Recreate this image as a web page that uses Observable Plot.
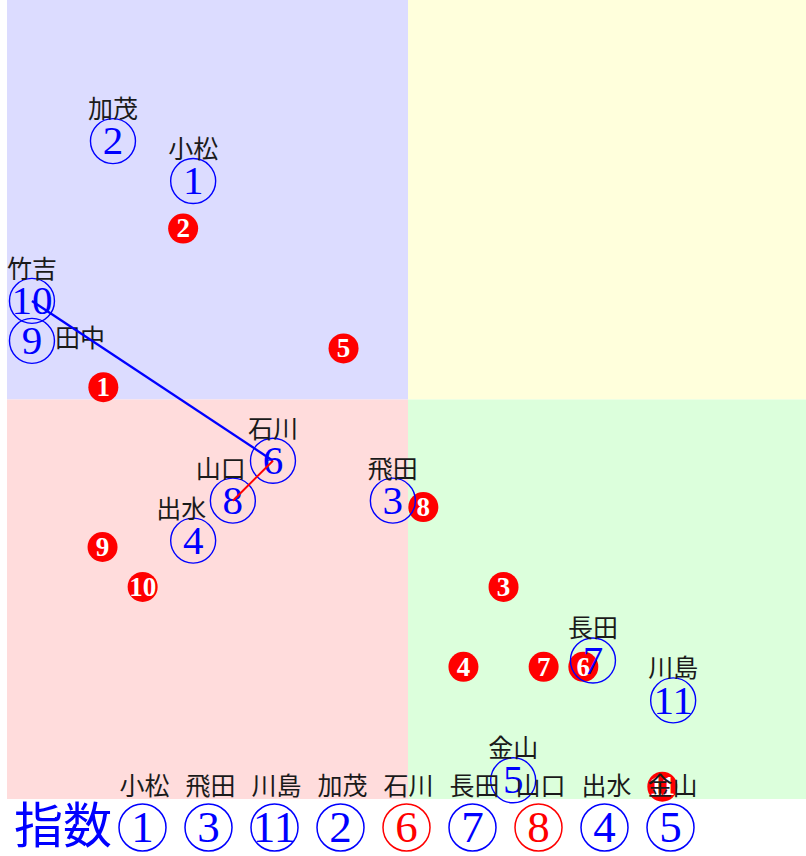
<!DOCTYPE html>
<html>
<head>
<meta charset="utf-8">
<script src="https://cdn.jsdelivr.net/npm/d3@7"></script>
<script src="https://cdn.jsdelivr.net/npm/@observablehq/plot@0.6"></script>
<style>
  body { margin: 0; background: #fff; }
  #wrap { position: relative; width: 806px; height: 856px; overflow: hidden; }
  #wrap svg { position: absolute; left: 0; }
</style>
</head>
<body>
<div id="wrap"></div>
<script>
// ---- data ----
const blueNo   = [1, 2, 3, 4, 5, 6, 7, 8, 9, 10, 11];
const blueName = ["小松", "加茂", "飛田", "出水", "金山", "石川", "長田", "山口", "田中", "竹吉", "川島"];
const blueX    = [4.63, 2.63, 9.61, 4.63, 12.61, 6.62, 14.60, 5.62, 0.61, 0.61, 16.60];
const blueY    = [15.48, 16.48, 7.48, 6.48, 0.48, 8.48, 3.48, 7.48, 11.48, 12.48, 2.48];

const redNo = [1, 2, 3, 4, 5, 6, 7, 8, 9, 10, 11];
const redX  = [2.39, 4.38, 12.37, 11.37, 8.38, 14.36, 13.37, 10.37, 2.37, 3.37, 16.33];
const redY  = [10.32, 14.29, 5.32, 3.32, 11.29, 3.32, 3.32, 7.32, 6.32, 5.32, 0.32];

const blueLinks = [[10, 6]];
const redLinks  = [[8, 6]];

const quadrantNames = ["左上", "右上", "左下", "右下"];
const quadrantColors = ["#dcdcff", "#ffffdc", "#ffdcdc", "#dcffdc"];

const rankNames  = ["小松", "飛田", "川島", "加茂", "石川", "長田", "山口", "出水", "金山"];
const rankNums   = [1, 3, 11, 2, 6, 7, 8, 4, 5];
const rankMarked = [false, false, false, false, true, false, true, false, false];
const rankTitle  = "指数";

// ---- tables ----
const xDomain = [0, 20], yDomain = [0, 20];
const xm = (xDomain[0] + xDomain[1]) / 2, ym = (yDomain[0] + yDomain[1]) / 2;
const quads = [
  {q: quadrantNames[0], x1: xDomain[0], x2: xm, y1: ym, y2: yDomain[1]},
  {q: quadrantNames[1], x1: xm, x2: xDomain[1], y1: ym, y2: yDomain[1]},
  {q: quadrantNames[2], x1: xDomain[0], x2: xm, y1: yDomain[0], y2: ym},
  {q: quadrantNames[3], x1: xm, x2: xDomain[1], y1: yDomain[0], y2: ym}
];
const blue = blueNo.map((n, i) => ({n, name: blueName[i], x: blueX[i], y: blueY[i]}));
const red  = redNo.map((n, i) => ({n, x: redX[i], y: redY[i]}));
const byNo = new Map(blue.map(d => [d.n, d]));
const linkRows = arr => arr.map(([a, b]) => ({a: byNo.get(a), b: byNo.get(b)}));
const rank = rankNames.map((name, i) => ({name, n: rankNums[i], marked: rankMarked[i]}));

const CJK = "Noto Sans CJK JP";
const SERIF = "Liberation Serif";
const leftShift = new Set(["出水", "山口"]);
const sideLabel = new Set(["田中"]);

const main = Plot.plot({
  width: 806, height: 856,
  marginLeft: 7, marginRight: -3, marginTop: 0, marginBottom: 57,
  x: {domain: xDomain, axis: null},
  y: {domain: yDomain, axis: null},
  color: {domain: quadrantNames, range: quadrantColors},
  style: {background: "white", overflow: "visible"},
  marks: [
    Plot.rect(quads, {x1: "x1", x2: "x2", y1: "y1", y2: "y2", fill: "q"}),
    Plot.dot(red, {x: "x", y: "y", r: 15, fill: "#ff0000", stroke: "none"}),
    Plot.text(red, {x: "x", y: "y", text: d => String(d.n), fill: "white", fontFamily: SERIF,
      fontWeight: "bold", fontSize: 27, ariaLabel: "red-num"}),
    Plot.dot(blue, {x: "x", y: "y", r: 22.5, fill: "none", stroke: "#0000ff", strokeWidth: 1.4}),
    Plot.text(blue, {x: "x", y: "y", text: d => String(d.n), fill: "#0000ff", fontFamily: SERIF,
      fontSize: 41, ariaLabel: "blue-num"}),
    Plot.text(blue.filter(d => !leftShift.has(d.name) && !sideLabel.has(d.name)),
      {x: "x", y: "y", text: "name", dy: -31, fontFamily: CJK, fontSize: 25, fill: "#1a1a1a"}),
    Plot.text(blue.filter(d => leftShift.has(d.name)),
      {x: "x", y: "y", text: "name", dy: -31, dx: -12, fontFamily: CJK, fontSize: 25, fill: "#1a1a1a"}),
    Plot.text(blue.filter(d => sideLabel.has(d.name)),
      {x: "x", y: "y", text: "name", dy: -2, dx: 23, textAnchor: "start", fontFamily: CJK, fontSize: 25, fill: "#1a1a1a"}),
    Plot.link(linkRows(blueLinks), {x1: d => d.a.x, y1: d => d.a.y, x2: d => d.b.x, y2: d => d.b.y,
      stroke: "#0000ff", strokeWidth: 2.3}),
    Plot.link(linkRows(redLinks), {x1: d => d.a.x, y1: d => d.a.y, x2: d => d.b.x, y2: d => d.b.y,
      stroke: "#ff0000", strokeWidth: 2})
  ]
});
main.style.top = "0px";

const rowY = ["name", "rank"];
const overlay = Plot.plot({
  width: 806, height: 96,
  marginLeft: 105.6, marginRight: 99.2, marginTop: 26, marginBottom: 29,
  x: {type: "band", domain: rankNames, padding: 0, axis: null},
  y: {type: "point", domain: rowY, padding: 0, axis: null},
  style: {background: "transparent", overflow: "visible"},
  marks: [
    Plot.text(rank, {x: "name", y: () => "name", text: "name", dx: 2, fontFamily: CJK, fontSize: 25, fill: "#1a1a1a"}),
    Plot.dot(rank, {x: "name", y: () => "rank", r: 23.5, fill: "none",
      stroke: d => d.marked ? "#ff0000" : "#0000ff", strokeWidth: 1.5}),
    Plot.text(rank, {x: "name", y: () => "rank", text: d => String(d.n), fontFamily: SERIF, fontSize: 45,
      fill: d => d.marked ? "#ff0000" : "#0000ff", ariaLabel: "rank-num"}),
    Plot.text([rankTitle], {y: () => "rank", text: d => d, frameAnchor: "left", textAnchor: "end", dx: 6,
      fontFamily: CJK, fontSize: 49, fill: "#0000ff"})
  ]
});
overlay.style.top = "760px";

function squeeze(svg, label, len) {
  d3.select(svg).selectAll(`g[aria-label="${label}"] text`)
    .filter(function () { return this.textContent.length > 1; })
    .attr("textLength", len).attr("lengthAdjust", "spacingAndGlyphs");
}
squeeze(main, "blue-num", 33);
squeeze(main, "red-num", 21);
squeeze(overlay, "rank-num", 31);

const wrap = document.getElementById("wrap");
wrap.appendChild(main);
wrap.appendChild(overlay);
</script>
</body>
</html>
